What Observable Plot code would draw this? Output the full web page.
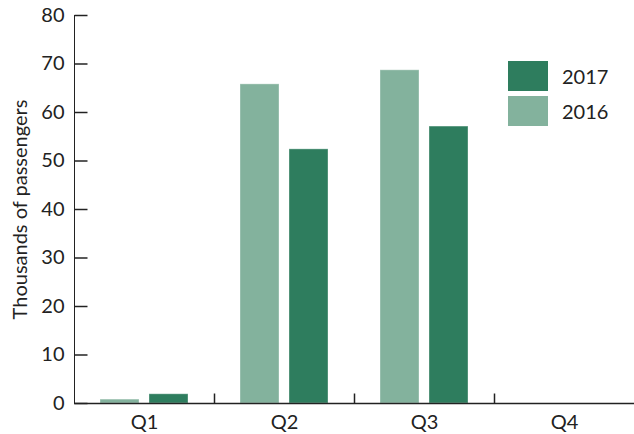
<!DOCTYPE html>
<html><head><meta charset="utf-8">
<script src="https://cdn.jsdelivr.net/npm/d3@7"></script>
<script src="https://cdn.jsdelivr.net/npm/@observablehq/plot@0.6"></script>
<style>
body{margin:0;background:#fff;font-family:Lato,sans-serif}
#wrap{position:relative;width:634px;height:434px}
.legend{position:absolute;left:508px;top:61px;font-family:Lato,sans-serif;font-size:20px;color:#222}
.item{display:flex;align-items:center;height:30px;margin-bottom:5px}
.sw{width:40px;height:30px;margin-right:14px}
</style></head><body><div id="wrap"></div>
<script>
const quarters = ["Q1", "Q2", "Q3", "Q4"];
const years = ["2016", "2017"];
const values2016 = [0.8, 65.8, 68.7, null];
const values2017 = [1.9, 52.4, 57.1, null];
const yTicks = [0, 10, 20, 30, 40, 50, 60, 70, 80];
const legendOrder = ["2017", "2016"];
const palette = ["#83b29d", "#2e7d5e"];
const yLabel = "Thousands of passengers";

const data = [];
quarters.forEach((q, i) => {
  data.push({quarter: q, year: years[0], value: values2016[i]});
  data.push({quarter: q, year: years[1], value: values2017[i]});
});

const vTick = {draw(ctx) { ctx.moveTo(0, 0); ctx.lineTo(0, -10); }};
const hTick = {draw(ctx) { ctx.moveTo(0, 0); ctx.lineTo(13, 0); }};

const plot = Plot.plot({
  width: 634, height: 434,
  marginLeft: 73, marginRight: 0, marginTop: 15, marginBottom: 31,
  style: {fontFamily: "Lato, sans-serif", fontSize: "20px", color: "#222", background: "#fff"},
  fx: {domain: quarters, padding: 0, label: null, axis: "bottom", tickSize: 0, tickPadding: 11},
  x: {domain: years, axis: null, paddingInner: 0.204, paddingOuter: 0.53},
  y: {domain: [0, 80], ticks: yTicks, tickSize: 0, tickPadding: 10, label: yLabel, labelArrow: "none",
      labelAnchor: "center", labelOffset: 62, line: true},
  color: {domain: years, range: palette},
  marks: [
    Plot.barY(data, {fx: "quarter", x: "year", y: "value", fill: "year", stroke: "#fff", strokeOpacity: 0.35, strokeWidth: 1}),
    Plot.ruleY([0], {stroke: "#222", strokeWidth: 1.5}),
    Plot.dot(quarters.slice(1), {fx: d => d, frameAnchor: "bottom-left", symbol: vTick, fill: "none", stroke: "#222", strokeWidth: 1.5}),
    Plot.dot(yTicks, {fx: () => quarters[0], y: d => d, frameAnchor: "left", symbol: hTick, fill: "none", stroke: "#222", strokeWidth: 1.5})
  ]
});
const wrap = document.getElementById("wrap");
wrap.appendChild(plot);

const legend = document.createElement("div");
legend.className = "legend";
legendOrder.forEach(y => {
  const item = document.createElement("div");
  item.className = "item";
  const sw = document.createElement("div");
  sw.className = "sw";
  sw.style.background = palette[years.indexOf(y)];
  const t = document.createElement("span");
  t.textContent = y;
  item.appendChild(sw); item.appendChild(t);
  legend.appendChild(item);
});
wrap.appendChild(legend);
</script></body></html>
